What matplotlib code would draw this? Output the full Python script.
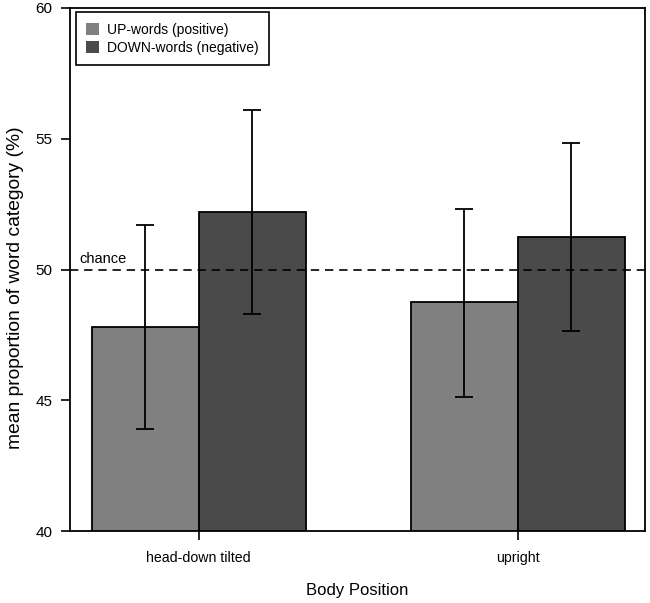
import matplotlib
matplotlib.use("Agg")
import matplotlib.pyplot as plt
import numpy as np

plt.rcParams['font.family'] = ['Liberation Sans', 'DejaVu Sans']

categories = ["head-down tilted", "upright"]
series_names = ["UP-words (positive)", "DOWN-words (negative)"]
up_means = [47.8, 48.75]
down_means = [52.2, 51.25]
up_lower = [43.9, 45.14]
up_upper = [51.7, 52.33]
down_lower = [48.3, 47.67]
down_upper = [56.1, 54.85]
chance_level = 50
yticks = [40, 45, 50, 55, 60]

colors = ["#808080", "#4a4a4a"]

fig = plt.figure(figsize=(6.5, 6.03), dpi=100)
ax = fig.add_axes([0.1077, 0.1189, 0.8846, 0.8683])

x = np.arange(len(categories))
w = 0.335

up_err = [np.array(up_means) - np.array(up_lower), np.array(up_upper) - np.array(up_means)]
down_err = [np.array(down_means) - np.array(down_lower), np.array(down_upper) - np.array(down_means)]

ax.bar(x - w / 2, up_means, width=w, color=colors[0], edgecolor="black", linewidth=1.3,
       label=series_names[0], zorder=2)
ax.bar(x + w / 2, down_means, width=w, color=colors[1], edgecolor="black", linewidth=1.3,
       label=series_names[1], zorder=2)
ax.errorbar(x - w / 2, up_means, yerr=up_err, fmt="none", ecolor="black", elinewidth=1.3,
            capsize=6.5, capthick=1.3, zorder=4)
ax.errorbar(x + w / 2, down_means, yerr=down_err, fmt="none", ecolor="black", elinewidth=1.3,
            capsize=6.5, capthick=1.3, zorder=4)

ax.axhline(chance_level, color="black", linestyle=(0, (5, 3.5)), linewidth=1.2, zorder=3)
ax.text(-0.375, chance_level + 0.12, "chance", fontsize=10.5, ha="left", va="bottom")

ax.set_xlim(-0.403, 1.398)
ax.set_ylim(40, 60)
ax.set_yticks(yticks)
ax.set_xticks(x)
ax.set_xticklabels(categories)
ax.tick_params(axis="y", direction="out", length=6.5, width=1.2, labelsize=11, pad=6)
ax.tick_params(axis="x", direction="out", length=6.5, width=1.2, labelsize=10.2, pad=8)
for s in ax.spines.values():
    s.set_linewidth(1.3)

ax.set_xlabel("Body Position", fontsize=12, labelpad=13)
ax.set_ylabel("mean proportion of word category (%)", fontsize=13.9)
ax.yaxis.set_label_coords(-0.08, 0.4656)

leg = ax.legend(loc="upper left", bbox_to_anchor=(0.0104, 0.991), borderaxespad=0,
                fancybox=False, edgecolor="black", fontsize=10, handlelength=0.9,
                handleheight=0.9, handletextpad=0.55, borderpad=0.75, labelspacing=0.3,
                framealpha=1)
leg.get_frame().set_linewidth(1.2)
for p in leg.get_patches():
    p.set_edgecolor("none")

fig.savefig("out.png", dpi=100)
